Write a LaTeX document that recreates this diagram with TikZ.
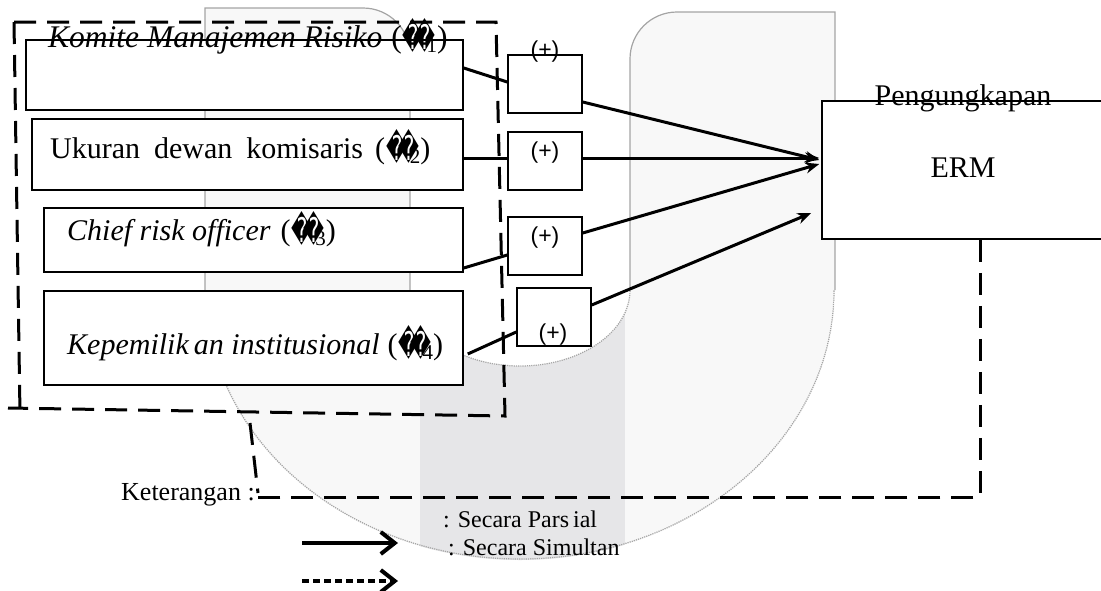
\documentclass[tikz,border=0pt]{standalone}
\usepackage{fontspec}
\setmainfont{Liberation Serif}
\newfontfamily\plusfont{Liberation Sans}
\newfontfamily\repl{DejaVu Sans}
\usetikzlibrary{arrows.meta}
\usetikzlibrary{positioning}
\usetikzlibrary{calc}

\definecolor{wmlight}{RGB}{248,248,248}
\definecolor{wmdark}{RGB}{230,230,232}
\definecolor{wmline}{RGB}{165,165,165}

\newcommand{\varsym}[1]{{\upshape(\kern1pt{\repl\fontsize{34}{34}\selectfont\raisebox{-2pt}{\scalebox{0.6}[1]{\char"FFFD}}\kern-9pt\raisebox{-2pt}{\scalebox{0.6}[1]{\char"FFFD}}}\kern-9pt\raisebox{-5pt}{\fontsize{21}{21}\selectfont #1})}}

\tikzset{
  var/.style={draw, fill=white, line width=1.5pt, inner sep=0pt},
  sign/.style={draw, fill=white, line width=1.5pt, minimum width=74pt, minimum height=58pt, inner sep=0pt},
  lbl/.style={inner sep=0pt, font=\fontsize{30}{36}\selectfont},
  plus/.style={inner sep=0pt, font=\plusfont\fontsize{23}{26}\selectfont},
  note/.style={inner sep=0pt, font=\fontsize{24}{28}\selectfont},
  link/.style={line width=3pt},
  arr/.style={line width=3pt, -{Stealth[length=14pt,width=11pt]}},
  grp/.style={line width=3pt, dash pattern=on 22pt off 11pt},
  wmedge/.style={draw=wmline, line width=1.2pt},
}

\begin{document}
\begin{tikzpicture}[x=1pt, y=-1pt]
	\useasboundingbox (0,0) rectangle (1101,590);
	
	% watermark
	\fill[wmlight] (205,290) -- (205,8) -- (363,8) .. controls (389,8) and (410,29) .. (410,55) -- (410,290) -- cycle;
	\fill[wmlight] (630,290) -- (630,59) .. controls (630,33) and (651,12) .. (677,12) -- (835,12) -- (835,290) -- cycle;
	\begin{scope}
		\clip (0,290) rectangle (1101,590);
		\fill[wmlight] (520,290) ellipse [x radius=315pt, y radius=270pt];
		\clip (520,290) ellipse [x radius=315pt, y radius=270pt];
		\fill[wmdark] (420,290) rectangle (625,590);
		\fill[white] (520,290) ellipse [x radius=110pt, y radius=76pt];
		\draw[wmedge, densely dotted] (520,290) ellipse [x radius=314pt, y radius=269pt];
		\draw[wmedge, densely dotted] (520,290) ellipse [x radius=110pt, y radius=76pt];
	\end{scope}
	\draw[wmedge] (205,290) -- (205,8) -- (363,8) .. controls (389,8) and (410,29) .. (410,55) -- (410,290);
	\draw[wmedge] (630,290) -- (630,59) .. controls (630,33) and (651,12) .. (677,12) -- (835,12) -- (835,290);
	
	% variables
	\node[var, minimum width=437pt, minimum height=70pt] (k1) at (244.5,75) {};
	\node[var, minimum width=431pt, minimum height=71pt] (k2) at (247.5,154.5) {};
	\node[var, minimum width=419pt, minimum height=64pt] (k3) at (253.5,240) {};
	\node[var, minimum width=419pt, minimum height=94pt] (k4) at (253.5,338) {};
	
	\node[lbl, anchor=base west, font=\fontsize{31.5}{36}\selectfont] (t1) at (48,47) {\itshape Komite Manajemen Risiko\hspace{9pt}\varsym{1}};
	\node[lbl, anchor=base west] (t2) at (50,158) {Ukuran\hspace{14pt}dewan\hspace{14pt}komisaris\hspace{12pt}\varsym{2}};
	\node[lbl, anchor=base west] (t3) at (67,240) {\itshape Chief risk officer\hspace{10pt}\varsym{3}};
	\node[lbl, anchor=base west] (t4) at (67,354) {\itshape Kepemilik\kern5pt an institusional\hspace{8pt}\varsym{4}};
	
	% signs
	\node[sign] (b1) at (545,84) {};
	\node[sign] (b2) at (545,161) {};
	\node[sign] (b3) at (545,246) {};
	\node[sign] (b4) at (554,317) {};
	\node[plus] (p1) at (545,52) {(+)};
	\node[plus] (p2) at (545,153) {(+)};
	\node[plus] (p3) at (545,238) {(+)};
	\node[plus] (p4) at (553,335) {(+)};
	
	% dependent
	\node[var, minimum width=280pt, minimum height=138pt] (erm) at (962,170) {};
	\node[lbl, anchor=base] (peng) at (963,105) {Pengungkapan};
	\node[lbl, anchor=base] (ermt) at (963,177) {ERM};
	
	% partial paths
	\draw[link] ($(k1.east)+(0,-7)$) -- ($(b1.west)+(0,-2)$);
	\draw[arr] ($(b1.east)+(0,18)$) -- ($(erm.west)+(-2,-10)$);
	\draw[link] ($(k2.east)+(0,3.5)$) -- ($(b2.west)+(0,-3)$);
	\draw[arr] ($(b2.east)+(0,-3)$) -- ($(erm.west)+(-2,-12)$);
	\draw[link] ($(k3.east)+(0,28)$) -- ($(b3.west)+(0,9)$);
	\draw[arr] ($(b3.east)+(0,-13)$) -- ($(erm.west)+(-2,-6)$);
	\draw[link] ($(k4.east)+(4,16)$) -- ($(b4.west)+(0,15)$);
	\draw[arr] ($(b4.east)+(0,-12)$) -- ($(erm.west)+(-10,43)$);
	
	% simultaneous
	\draw[grp] (14,22) -- (496,22) -- (505,416) -- (8,408);
	\draw[grp] (14,22) -- (20,414);
	\draw[grp] (250,423) -- (258,493);
	\node[inner sep=0pt, font=\fontsize{26}{30}\selectfont, anchor=base west] (ket) at (121,500) {Keterangan :};
	\draw[grp] ($(erm.south)+(18,0)$) -- (980,497) -- (ket.east |- 980,497);
	
	% legend
	\coordinate (s1) at (302,543);
	\coordinate (s2) at (398,543);
	\coordinate (d1) at (302,581);
	\coordinate (d2) at (398,581);
	\draw[line width=4pt, -{Straight Barb[length=14pt,width=22pt]}] (s1) -- (s2);
	\draw[line width=4pt, dash pattern=on 7pt off 4pt, -{Straight Barb[length=14pt,width=22pt]}] (d1) -- (d2);
	\node[note, anchor=base west] (n1) at (443,527) {: Secara Pars\kern4pt ial};
	\node[note, anchor=base west] (n2) at (448,555) {: Secara Simultan};
\end{tikzpicture}
\end{document}
